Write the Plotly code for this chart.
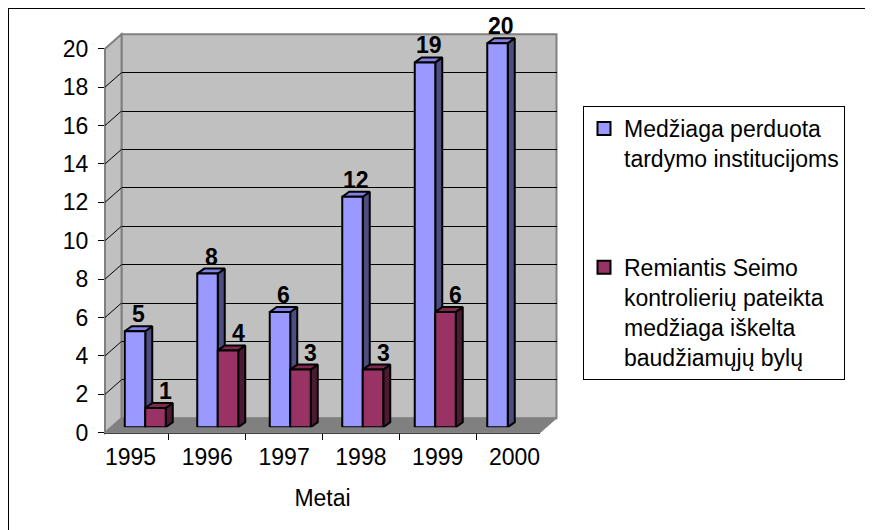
import plotly.graph_objects as go

# ---------------- data ----------------
years = ["1995", "1996", "1997", "1998", "1999", "2000"]
series_names = [
    "Medžiaga perduota<br>tardymo institucijoms",
    "Remiantis Seimo<br>kontrolierių pateikta<br>medžiaga iškelta<br>baudžiamųjų bylų",
]
perduota = [5, 8, 6, 12, 19, 20]
bylos = [1, 4, 3, 3, 6, None]
y_ticks = [0, 2, 4, 6, 8, 10, 12, 14, 16, 18, 20]

# ---------------- geometry / style ----------------
PAGE_OFF = 8                      # browser body margin
W, H = 873 - PAGE_OFF, 530 - PAGE_OFF
FONT = "Liberation Sans, Arial, sans-serif"
FS = 23

def fx(px):
    return (px - PAGE_OFF) / W

def fy(py):
    return 1 - (py - PAGE_OFF) / H

# front plane (reference pixel)
FX0, FX1 = 105, 540
FY0, FY20 = 432.7, 48.7
PPU = (FY0 - FY20) / 20.0
# back wall offset
WDX, WDY = 16.5, 14.5
# bar plane offset
BDX, BDY = 4, 5.5
CAT_W = (FX1 - FX0) / len(years)

BAR_W = 20.5 / CAT_W          # width of one bar in category units
DEPTH_X = 7 / CAT_W           # 3D depth of bars (category units)
DEPTH_Y = 5 / PPU             # 3D depth of bars (value units)

colors = [
    dict(front="#9999FF", side="#4D4D80", top="#8080E6"),
    dict(front="#993366", side="#4D1A33", top="#80294F"),
]
label_dx = [3.5 / CAT_W, 10 / CAT_W]

fig = go.Figure()

# invisible trace so the back-wall subplot exists
fig.add_trace(go.Scatter(x=[None], y=[None], xaxis="x", yaxis="y", showlegend=False,
                         hoverinfo="skip", mode="markers"))

# --- bar polygons on x3/y3 ---
for s, vals in enumerate([perduota, bylos]):
    sx, sy, tx, ty, fxs, fys = [], [], [], [], [], []
    for i, v in enumerate(vals):
        if v is None:
            continue
        l = i - BAR_W if s == 0 else i
        r = l + BAR_W
        sx += [r, r + DEPTH_X, r + DEPTH_X, r, r, None]
        sy += [0, DEPTH_Y, v + DEPTH_Y, v, 0, None]
        tx += [l, l + DEPTH_X, r + DEPTH_X, r, l, None]
        ty += [v, v + DEPTH_Y, v + DEPTH_Y, v, v, None]
        fxs += [l, l, r, r, l, None]
        fys += [0, v, v, 0, 0, None]
    c = colors[s]
    for xs, ys, col in [(sx, sy, c["side"]), (tx, ty, c["top"]), (fxs, fys, c["front"])]:
        fig.add_trace(go.Scatter(
            x=xs, y=ys, mode="lines", fill="toself", fillcolor=col,
            line=dict(color="black", width=2), xaxis="x3", yaxis="y3",
            showlegend=False, hoverinfo="skip"))

# --- data labels ---
annotations = []
for s, vals in enumerate([perduota, bylos]):
    for i, v in enumerate(vals):
        if v is None:
            continue
        c = (i - BAR_W / 2) if s == 0 else (i + BAR_W / 2)
        annotations.append(dict(
            x=c + label_dx[s], y=v + DEPTH_Y, xref="x3", yref="y3",
            text=f"<b>{v}</b>", showarrow=False, xanchor="center", yanchor="middle",
            yshift=12, font=dict(family=FONT, size=FS, color="black")))

# --- legend entries ---
for s in range(2):
    fig.add_trace(go.Scatter(
        x=[None], y=[None], mode="markers", name=series_names[s],
        legendgroup=f"g{s}",
        marker=dict(symbol="square", size=13, color=colors[s]["front"],
                    line=dict(color="black", width=2)),
        xaxis="x3", yaxis="y3"))

# --- a trace on the front axes so they render ---
fig.add_trace(go.Scatter(x=years, y=[None] * len(years), xaxis="x2", yaxis="y2",
                         showlegend=False, hoverinfo="skip", mode="markers"))

shapes = []
# back wall
shapes.append(dict(type="rect", xref="x domain", yref="y domain", x0=0, x1=1, y0=0, y1=1,
                   fillcolor="#C0C0C0", line=dict(color="#808080", width=2), layer="below"))

def poly(pts):
    return "M" + " L".join(f"{fx(a):.5f},{fy(b):.5f}" for a, b in pts) + " Z"

# side wall
shapes.append(dict(type="path", xref="paper", yref="paper", layer="below",
                   path=poly([(FX0, FY20), (FX0 + WDX, FY20 - WDY), (FX0 + WDX, FY0 - WDY), (FX0, FY0)]),
                   fillcolor="#C0C0C0", line=dict(color="#808080", width=2)))
# floor
shapes.append(dict(type="path", xref="paper", yref="paper", layer="below",
                   path=poly([(FX0, FY0), (FX0 + WDX, FY0 - WDY), (FX1 + WDX, FY0 - WDY), (FX1, FY0)]),
                   fillcolor="#808080", line=dict(color="#808080", width=1)))
# side-wall grid lines
for v in y_ticks[1:-1]:
    yf = FY0 - v * PPU
    shapes.append(dict(type="line", xref="paper", yref="paper", layer="below",
                       x0=fx(FX0), y0=fy(yf), x1=fx(FX0 + WDX), y1=fy(yf - WDY),
                       line=dict(color="black", width=1)))
# outer border (top & left visible)
shapes.append(dict(type="line", xref="paper", yref="paper", x0=fx(8), x1=1, y0=fy(8), y1=fy(8),
                   line=dict(color="black", width=2)))
shapes.append(dict(type="line", xref="paper", yref="paper", x0=fx(8), x1=fx(8), y0=0, y1=fy(8),
                   line=dict(color="black", width=2)))

fig.update_layout(
    width=W, height=H, autosize=False,
    margin=dict(l=0, r=0, t=0, b=0, pad=0),
    paper_bgcolor="white", plot_bgcolor="rgba(0,0,0,0)",
    font=dict(family=FONT, size=FS, color="black"),
    shapes=shapes,
    annotations=annotations,
    showlegend=True,
    legend=dict(x=fx(583), y=fy(106), xanchor="left", yanchor="top",
                bgcolor="white", bordercolor="black", borderwidth=1,
                font=dict(family=FONT, size=FS, color="black"),
                traceorder="grouped", tracegroupgap=76, valign="top"),
    # back wall
    xaxis=dict(domain=[fx(FX0 + WDX), fx(FX1 + WDX)], range=[0, 1], showgrid=False,
               showticklabels=False, ticks="", zeroline=False, showline=False,
               automargin=False, fixedrange=True),
    yaxis=dict(domain=[fy(FY0 - WDY), fy(FY20 - WDY)], range=[0, 20], showgrid=True,
               tickvals=y_ticks[1:-1], gridcolor="black", gridwidth=1,
               showticklabels=False, ticks="", zeroline=False, showline=False,
               automargin=False, fixedrange=True),
    # front axes
    xaxis2=dict(domain=[fx(FX0), fx(FX1)], anchor="y2", type="category",
                categoryorder="array", categoryarray=years,
                tickson="boundaries", ticks="outside", ticklen=6, tickcolor="black",
                showline=True, linecolor="#404040", linewidth=1, showgrid=False,
                tickfont=dict(size=FS), ticklabelstandoff=4, automargin=False,
                title=dict(text="Metai", font=dict(size=FS), standoff=20), fixedrange=True),
    yaxis2=dict(domain=[fy(FY0), fy(FY20)], anchor="x2", range=[0, 20], tickvals=y_ticks,
                ticks="outside", ticklen=6, tickcolor="black", showline=True, linecolor="#808080",
                linewidth=1, showgrid=False, zeroline=False, tickfont=dict(size=FS),
                ticklabelstandoff=5, automargin=False, fixedrange=True),
    # bars
    xaxis3=dict(domain=[fx(FX0 + BDX), fx(FX1 + BDX)], anchor="y3", range=[-0.5, 5.5],
                visible=False, automargin=False, fixedrange=True),
    yaxis3=dict(domain=[fy(FY0 - BDY), fy(FY0 - BDY - 21 * PPU)], anchor="x3", range=[0, 21],
                visible=False, automargin=False, fixedrange=True),
)

fig.write_html("out.html")
